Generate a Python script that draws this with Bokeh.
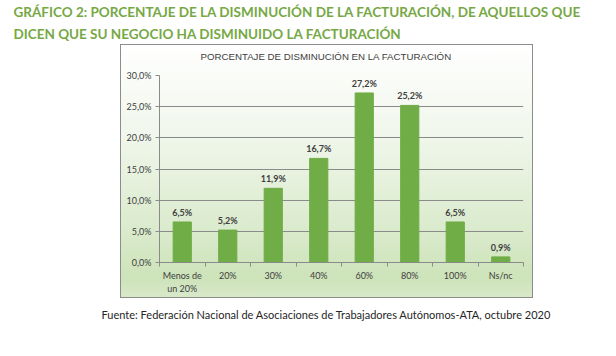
from bokeh.plotting import figure
from bokeh.models import Range1d, FixedTicker, CustomJSTickFormatter, Title, ColumnDataSource
from bokeh.core.properties import value
from bokeh.embed import file_html
from bokeh.resources import INLINE

categories = ["Menos de\nun 20%", "20%", "30%", "40%", "60%", "80%", "100%", "Ns/nc"]
values = [6.5, 5.2, 11.9, 16.7, 27.2, 25.2, 6.5, 0.9]
y_ticks = [0, 5, 10, 15, 20, 25, 30]

title_lines = ["GRÁFICO 2: PORCENTAJE DE LA DISMINUCIÓN DE LA FACTURACIÓN, DE AQUELLOS QUE",
               "DICEN QUE SU NEGOCIO HA DISMINUIDO LA FACTURACIÓN"]
chart_title = "PORCENTAJE DE DISMINUCIÓN EN LA FACTURACIÓN"
source_text = "Fuente: Federación Nacional de Asociaciones de Trabajadores Autónomos-ATA, octubre 2020"

W, H = 616, 356
FL, FR, FT, FB = 159, 523, 74, 262

xs = [i + 0.5 for i in range(len(categories))]
labels = [f"{v:.1f}".replace(".", ",") + "%" for v in values]
src = ColumnDataSource(dict(x=xs, top=values, lab=labels))

p = figure(width=W, height=H, output_backend="svg", toolbar_location=None,
           x_range=Range1d(0, len(categories)), y_range=Range1d(0, 30),
           min_border_left=FL, min_border_right=W - FR, min_border_top=FT, min_border_bottom=H - FB)
p.border_fill_color = None
p.background_fill_color = None
p.outline_line_color = None

bc = "#8c8c8c"
p.styles = {
    "background-image": (f"linear-gradient({bc},{bc}), linear-gradient({bc},{bc}), "
                         f"linear-gradient({bc},{bc}), linear-gradient({bc},{bc}), "
                         "linear-gradient(to bottom, #ffffff 0%, #f1f7ec 35%, #d9eacb 75%, #cde3b9 92%, #d8e9cb 100%)"),
    "background-size": "413px 1px, 413px 1px, 1px 254px, 1px 254px, 413px 254px",
    "background-position": "120px 44px, 120px 297px, 120px 44px, 532px 44px, 120px 44px",
    "background-repeat": "no-repeat",
}

p.vbar(x="x", top="top", width=0.4, source=src, color="#70ad47")
p.text(x="x", y="top", text="lab", source=src, text_align="center", text_baseline="bottom",
       y_offset=-4, text_font=value("Lato"), text_font_size="9px", text_font_style="bold",
       text_color="#404040")

# axes
p.xgrid.visible = False
p.ygrid.ticker = FixedTicker(ticks=y_ticks)
p.ygrid.grid_line_color = "#8a8a8a"
p.ygrid.grid_line_width = 1

ya = p.yaxis[0]
ya.ticker = FixedTicker(ticks=y_ticks)
ya.formatter = CustomJSTickFormatter(code="return tick.toFixed(1).replace('.', ',') + '%';")
ya.axis_line_color = "#8a8a8a"
ya.major_tick_line_color = "#8a8a8a"
ya.major_tick_out = 4
ya.major_tick_in = 0
ya.minor_tick_line_color = None
ya.major_label_text_font = "Lato"
ya.major_label_text_font_size = "9px"
ya.major_label_text_color = "#404040"
ya.major_label_standoff = 4

xa = p.xaxis[0]
xa.ticker = FixedTicker(ticks=xs, minor_ticks=list(range(len(categories) + 1)))
xa.major_label_overrides = {x: c for x, c in zip(xs, categories)}
xa.axis_line_color = "#8a8a8a"
xa.major_tick_line_color = None
xa.major_tick_out = 4
xa.major_tick_in = 0
xa.minor_tick_line_color = "#8a8a8a"
xa.minor_tick_out = 4
xa.minor_tick_in = 0
xa.major_label_text_font = "Lato"
xa.major_label_text_font_size = "9px"
xa.major_label_text_color = "#404040"
xa.major_label_standoff = 3

# titles (first added sits closest to the frame), footer below axis
p.title.text = ""
green = "#76a844"
p.add_layout(Title(text=" ", align="left", standoff=7, text_font_size="1px"), "above")
p.add_layout(Title(text=chart_title, align="left", offset=200 - FL, standoff=8,
                   text_font="Liberation Sans", text_font_size="9.7px", text_font_style="normal",
                   text_color="#404040"), "above")
p.add_layout(Title(text=title_lines[1], align="left", offset=13 - FL, standoff=6,
                   text_font="Lato", text_font_size="13.5px", text_font_style="bold",
                   text_color=green), "above")
p.add_layout(Title(text=title_lines[0], align="left", offset=13 - FL, standoff=2,
                   text_font="Lato", text_font_size="13.5px", text_font_style="bold",
                   text_color=green), "above")
p.add_layout(Title(text=source_text, align="left", offset=101 - FL, standoff=18,
                   text_font="Lato", text_font_size="11px", text_font_style="normal",
                   text_color="#262626"), "below")

open("out.html", "w").write(file_html(p, INLINE))
